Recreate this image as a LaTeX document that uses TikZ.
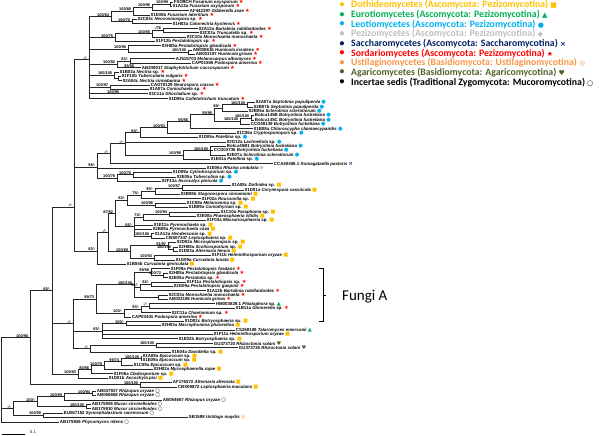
\documentclass[tikz,border=0pt]{standalone}
\usepackage{fontspec}
\setmainfont{Liberation Sans}
\newfontfamily\markfont{DejaVu Sans}
\newfontfamily\legfont{Carlito}
\usetikzlibrary{calc}
\definecolor{cDoth}{HTML}{FFC000}
\definecolor{cEuro}{HTML}{00B050}
\definecolor{cLeot}{HTML}{00B0F0}
\definecolor{cPezi}{HTML}{BFBFBF}
\definecolor{cSacc}{HTML}{002060}
\definecolor{cSord}{HTML}{FF0000}
\definecolor{cUsti}{HTML}{F79646}
\definecolor{cAgar}{HTML}{4F6228}
\definecolor{cLine}{HTML}{262626}
\newcommand\tipmark[2]{{\markfont\fontsize{5.2}{4}\selectfont\textcolor{#1}{#2}}}
\newcommand\mkR{\tipmark{cSord}{★}}
\newcommand\mkB{\tipmark{cLeot}{●}}
\newcommand\mkO{\tipmark{cDoth}{■}}
\newcommand\mkG{\tipmark{cEuro}{▲}}
\newcommand\mkY{\tipmark{cPezi}{◆}}
\newcommand\mkN{\tipmark{cSacc}{×}}
\newcommand\mkU{\tipmark{cUsti}{◎}}
\newcommand\mkA{\tipmark{cAgar}{♥}}
\newcommand\mkK{\tipmark{black}{○}}
\tikzset{
  tip-label/.style={anchor=west,inner xsep=0.7pt,inner ysep=0.2pt,
    font=\fontsize{4.4}{4.4}\selectfont\bfseries},
  boot-label/.style={anchor=south east,inner sep=0.2pt,xshift=-1.5pt,
    font=\fontsize{3.9}{3.9}\selectfont\bfseries},
  tree-edge/.style={draw=cLine,line width=0.85pt},
  legend-row/.style={anchor=west,inner sep=0pt,font=\legfont\fontsize{9.8}{10}\selectfont\bfseries},
  legend-dot/.style={inner sep=0pt,font=\legfont\fontsize{9.8}{10}\selectfont\bfseries},
}
\begin{document}
\begin{tikzpicture}[x=1pt,y=-4.375pt]
  \useasboundingbox (0,-0.4571) rectangle (600,99.2);

  % tips
  \node[tip-label] (l0) at (173,0) {FSO9CH \textit{Fusarium oxysporum} \mkR};
  \node[tip-label] (l1) at (172,1) {01A13a \textit{Fusarium oxysporum} \mkR};
  \node[tip-label] (l2) at (189,2) {AF442397 \textit{Gibberella zeae} \mkR};
  \node[tip-label] (l3) at (150,3) {01E08b \textit{Fusarium lateritium} \mkR};
  \node[tip-label] (l4) at (137,4) {02C04c \textit{Neocosmospora} sp. \mkR};
  \node[tip-label] (l5) at (172,5) {01H03a \textit{Calonectria kyotensis} \mkR};
  \node[tip-label] (l6) at (198,6) {02A12a \textit{Bartalinia robillardoides} \mkR};
  \node[tip-label] (l7) at (199,7) {03C03a \textit{Truncatella} sp. \mkR};
  \node[tip-label] (l8) at (186,8) {03C10a \textit{Monochaetia monochaeta} \mkR};
  \node[tip-label] (l9) at (155,9) {01F12b \textit{Pestalotiopsis} sp. \mkR};
  \node[tip-label] (l10) at (161,10) {03H05a \textit{Pestalotiopsis glandicola} \mkR};
  \node[tip-label] (l11) at (192,11) {AB008616 \textit{Humicola insolens} \mkR};
  \node[tip-label] (l12) at (195,12) {AB003187 \textit{Humicola grisea} \mkR};
  \node[tip-label] (l13) at (175,13) {AJ515703 \textit{Melanocarpus albomyces} \mkR};
  \node[tip-label] (l14) at (191,14) {CAP01565 \textit{Podospora anserina} \mkR};
  \node[tip-label] (l15) at (141,15) {AB249017 \textit{Staphylotrichum coccosporum} \mkR};
  \node[tip-label] (l16) at (119,16) {01B03a \textit{Nectria} sp. \mkR};
  \node[tip-label] (l17) at (121,17) {01F10b \textit{Tubercularia vulgaris} \mkR};
  \node[tip-label] (l18) at (122,18) {02A04c \textit{Nectria cinnabarina} \mkR};
  \node[tip-label] (l19) at (150,19) {CAD70129 \textit{Neurospora crassa} \mkR};
  \node[tip-label] (l20) at (149,20) {01A07a \textit{Coniochaeta} sp. \mkR};
  \node[tip-label] (l21) at (148,21) {03C11a \textit{Gliocladium} sp. \mkR};
  \node[tip-label] (l22) at (168,22) {01D05a \textit{Colletotrichum truncatum} \mkR};
  \node[tip-label] (l23) at (255,23) {02A07a \textit{Septotinia populiperda} \mkB};
  \node[tip-label] (l24) at (253,24) {02B07b \textit{Septotinia populiperda} \mkB};
  \node[tip-label] (l25) at (248,25) {02B05a \textit{Sclerotinia sclerotiorum} \mkB};
  \node[tip-label] (l26) at (254,26) {Botcu145B \textit{Botryotinia fuckeliana} \mkB};
  \node[tip-label] (l27) at (254,27) {Botcu145C \textit{Botryotinia fuckeliana} \mkB};
  \node[tip-label] (l28) at (250,28) {CCD48139 \textit{Botryotinia fuckeliana} \mkB};
  \node[tip-label] (l29) at (253,29) {01B08a \textit{Chloroscypha chamaecyparidis} \mkB};
  \node[tip-label] (l30) at (236,30) {01C06a \textit{Cryptosporiopsis} sp. \mkB};
  \node[tip-label] (l31) at (198,31) {01D05a \textit{Patellina} sp. \mkB};
  \node[tip-label] (l32) at (226,32) {02G12a \textit{Lachnellula} sp. \mkB};
  \node[tip-label] (l33) at (226,33) {Botcu45B1 \textit{Botryotinia fuckeliana} \mkB};
  \node[tip-label] (l34) at (213,34) {CCD03736 \textit{Botryotinia fuckeliana} \mkB};
  \node[tip-label] (l35) at (226,35) {02E07a \textit{Sclerotinia sclerotiorum} \mkB};
  \node[tip-label] (l36) at (210,36) {01E01a \textit{Patellina} sp. \mkB};
  \node[tip-label] (l37) at (273,37) {CCA40406.1 \textit{Komagataella pastoris} \mkN};
  \node[tip-label] (l38) at (206,38) {01E06a \textit{Rhizina undulata} \mkY};
  \node[tip-label] (l39) at (172,39) {01D09a \textit{Cylindrosporium} sp. \mkB};
  \node[tip-label] (l40) at (176,40) {02E05a \textit{Tuberculina} sp. \mkB};
  \node[tip-label] (l41) at (161,41) {02F13a \textit{Ascocalyx pinicola} \mkB};
  \node[tip-label] (l42) at (231,42) {01A08c \textit{Dothidea} sp. \mkO};
  \node[tip-label] (l43) at (244,43) {01D01a \textit{Corynespora cassiicola} \mkO};
  \node[tip-label] (l44) at (180,44) {02B08b \textit{Stagonospora cinnamomi} \mkO};
  \node[tip-label] (l45) at (201,45) {01F02a \textit{Roussoella} sp. \mkO};
  \node[tip-label] (l46) at (186,46) {01C08a \textit{Melanomma} sp. \mkO};
  \node[tip-label] (l47) at (188,47) {01B09a \textit{Coniothyrium} sp. \mkO};
  \node[tip-label] (l48) at (220,48) {01C10a \textit{Paraphoma} sp. \mkO};
  \node[tip-label] (l49) at (196,49) {02E08a \textit{Phaeosphaeria vitidis} \mkO};
  \node[tip-label] (l50) at (206,50) {01F03a \textit{Massariosphaeria} sp. \mkO};
  \node[tip-label] (l51) at (153,51) {01E11a \textit{Pyrenochaeta} sp. \mkO};
  \node[tip-label] (l52) at (152,52) {02B08a \textit{Pyrenochaeta cava} \mkO};
  \node[tip-label] (l53) at (154,53) {01A12a \textit{Hendersonia} sp. \mkO};
  \node[tip-label] (l54) at (165,54) {CBS07347 \textit{Leptosphaeria} sp. \mkO};
  \node[tip-label] (l55) at (176,55) {02D02a \textit{Microsphaeropsis} sp. \mkO};
  \node[tip-label] (l56) at (178,56) {02H08a \textit{Scolicosporium} sp. \mkO};
  \node[tip-label] (l57) at (178,57) {01D03a \textit{Alternaria tenuis} \mkO};
  \node[tip-label] (l58) at (211,58) {01F11b \textit{Helminthosporium oryzae} \mkO};
  \node[tip-label] (l59) at (175,59) {01G09a \textit{Curvularia lunata} \mkO};
  \node[tip-label] (l60) at (126,60) {01B04b \textit{Curvularia geniculata} \mkO};
  \node[tip-label] (l61) at (170,61) {01F09a \textit{Pestalotiopsis foedans} \mkR};
  \node[tip-label] (l62) at (168,62) {02H05a \textit{Pestalotiopsis glandicola} \mkR};
  \node[tip-label] (l63) at (168,63) {02E05a \textit{Pestalotia} sp. \mkR};
  \node[tip-label] (l64) at (186,64) {01F11a \textit{Pestalotiopsis} sp. \mkR};
  \node[tip-label] (l65) at (173,65) {02G09a \textit{Pestalotiopsis guepinii} \mkR};
  \node[tip-label] (l66) at (206,66) {01A12b \textit{Bartalinia robillardoides} \mkR};
  \node[tip-label] (l67) at (168,67) {02C03a \textit{Monochaetia monochaeta} \mkR};
  \node[tip-label] (l68) at (168,68) {AB003188 \textit{Humicola grisea} \mkR};
  \node[tip-label] (l69) at (215,69) {HM003839.1 \textit{Phialophora} sp. \mkG};
  \node[tip-label] (l70) at (235,70) {01B11a \textit{Glomerella} sp. \mkR};
  \node[tip-label] (l71) at (171,71) {02C11a \textit{Chaetomium} sp. \mkR};
  \node[tip-label] (l72) at (131,72) {CAP03441 \textit{Podospora anserina} \mkR};
  \node[tip-label] (l73) at (184,73) {01D02c \textit{Botryosphaeria} sp. \mkO};
  \node[tip-label] (l74) at (161,74) {02H03a \textit{Macrophomina phaseolina} \mkO};
  \node[tip-label] (l75) at (235,75) {CS258108 \textit{Talaromyces emersonii} \mkG};
  \node[tip-label] (l76) at (213,76) {01F11a \textit{Helminthosporium oryzae} \mkO};
  \node[tip-label] (l77) at (178,77) {01E02b \textit{Botryosphaeria} sp. \mkO};
  \node[tip-label] (l78) at (213,78) {GU373720 \textit{Rhizoctonia solani} \mkA};
  \node[tip-label] (l79) at (238,79) {GU373725 \textit{Rhizoctonia solani} \mkA};
  \node[tip-label] (l80) at (171,80) {01E04a \textit{Davidiella} sp. \mkO};
  \node[tip-label] (l81) at (142,81) {01A09a \textit{Epicoccum} sp. \mkO};
  \node[tip-label] (l82) at (142,82) {01E09a \textit{Epicoccum} sp. \mkO};
  \node[tip-label] (l83) at (133,83) {01C09a \textit{Epicoccum} sp. \mkO};
  \node[tip-label] (l84) at (153,84) {02H02a \textit{Mycosphaerella rojae} \mkO};
  \node[tip-label] (l85) at (113,85) {01F06a \textit{Cladosporium} sp. \mkO};
  \node[tip-label] (l86) at (108,86) {01D01b \textit{Ascochyta pisi} \mkO};
  \node[tip-label] (l87) at (172,87) {AF176572 \textit{Alternaria alternata} \mkO};
  \node[tip-label] (l88) at (177,88) {CBX09872 \textit{Leptosphaeria maculans} \mkO};
  \node[tip-label] (l89) at (96,89) {AB047927 \textit{Rhizopus oryzae} \mkK};
  \node[tip-label] (l90) at (96,90) {AB056668 \textit{Rhizopus oryzae} \mkK};
  \node[tip-label] (l91) at (162,91) {AB054667 \textit{Rhizopus oryzae} \mkK};
  \node[tip-label] (l92) at (91,92) {AB175909 \textit{Mucor circinelloides} \mkK};
  \node[tip-label] (l93) at (91,93) {AB175910 \textit{Mucor circinelloides} \mkK};
  \node[tip-label] (l94) at (63,94) {EU057152 \textit{Syncephalastrum racemosum} \mkK};
  \node[tip-label] (l95) at (188,95) {SB1598 \textit{Ustilago maydis} \mkU};
  \node[tip-label] (l96) at (59,96) {AB175926 \textit{Phycomyces nitens} \mkK};

  % inner nodes
  \coordinate (root) at (1,86.4);
  \coordinate (nBig) at (30,76.73);
  \coordinate (node54) at (52,65.97);
  \coordinate (node74) at (74,46.9);
  \coordinate (sord) at (89,13.2);
  \coordinate (s112) at (111,3.31);
  \coordinate (s135) at (133,2.125);
  \coordinate (s155) at (152,1.25);
  \coordinate (s170) at (170,0.5);
  \coordinate (s127) at (132,4.5);
  \coordinate (s117) at (115,8.125);
  \coordinate (s150) at (152,7.25);
  \coordinate (s187) at (163,6.5);
  \coordinate (s135b) at (128,10.75);
  \coordinate (s190) at (188,11.5);
  \coordinate (s118) at (117,14.25);
  \coordinate (s126) at (130,13.5);
  \coordinate (s115) at (114,16.75);
  \coordinate (s118b) at (118,17.5);
  \coordinate (s145) at (110,19.5);
  \coordinate (node97) at (97,37.8);
  \coordinate (node124) at (110,34.71);
  \coordinate (node140) at (125,32.42);
  \coordinate (nL00) at (140,29.84);
  \coordinate (nL0) at (167,28.69);
  \coordinate (nL1) at (190,27.375);
  \coordinate (nL2) at (214,25.75);
  \coordinate (nL3) at (222,24.25);
  \coordinate (nL3a) at (247,23.5);
  \coordinate (nL4) at (240,27.25);
  \coordinate (nL4a) at (251,26.5);
  \coordinate (nB1) at (183,35);
  \coordinate (nB2) at (210,34);
  \coordinate (node117c) at (117,40.25);
  \coordinate (node133) at (133,39.5);
  \coordinate (nDoth) at (97,57);
  \coordinate (nQ) at (108,52.73);
  \coordinate (nE1) at (115,48.34);
  \coordinate (nD4) at (127,45.31);
  \coordinate (nD3) at (141,44.125);
  \coordinate (nD2) at (155,43.25);
  \coordinate (nD1) at (182,42.5);
  \coordinate (nD5) at (155,46.5);
  \coordinate (nD8) at (134,51.375);
  \coordinate (nD7) at (143,49.25);
  \coordinate (nD6) at (169,48.5);
  \coordinate (nD9) at (151,53.5);
  \coordinate (nR) at (130,57.125);
  \coordinate (nS2) at (168,55.75);
  \coordinate (nS1) at (173,56.5);
  \coordinate (nS3) at (154,58.5);
  \coordinate (node73b) at (73,73.56);
  \coordinate (node97b) at (96,67.875);
  \coordinate (fA) at (134,64.625);
  \coordinate (fA1) at (151,61.75);
  \coordinate (fA2) at (163,62.5);
  \coordinate (fC) at (140,65.25);
  \coordinate (fB) at (151,64.5);
  \coordinate (fE) at (158,67.5);
  \coordinate (fF3) at (124,71.125);
  \coordinate (fF2) at (141,70.25);
  \coordinate (fF1) at (149,69.5);
  \coordinate (nG2) at (102,75.25);
  \coordinate (nG1) at (126,73.5);
  \coordinate (node95) at (90,79.25);
  \coordinate (nH) at (156,78.5);
  \coordinate (node82) at (78,85.03);
  \coordinate (nM) at (91,84.06);
  \coordinate (nN) at (104,83.125);
  \coordinate (nO) at (121,82.25);
  \coordinate (nP) at (141,81.5);
  \coordinate (node128) at (140,87.5);
  \coordinate (m13) at (13,92.94);
  \coordinate (m40) at (37,91.375);
  \coordinate (m67) at (64,90.25);
  \coordinate (m94) at (92,89.5);
  \coordinate (m80) at (86,92.5);
  \coordinate (m43) at (43,94.5);
  \coordinate (k15) at (136,15);
  \coordinate (k21) at (121,21);

  % branches
  \foreach \p/\cs in {root/{nBig,m13,l96.west}, nBig/{node54,node128},
      node54/{node74,node73b,node82}, node74/{sord,node97,nDoth},
      sord/{s112,s117,s135b,s118,s115,s145,l21.west,l22.west},
      s112/{s135,s127}, s135/{s155,l3.west}, s155/{s170,l2.west},
      s170/{l0.west,l1.west}, s127/{l4.west,l5.west}, s117/{s150,l9.west},
      s150/{s187,l8.west}, s187/{l6.west,l7.west}, s135b/{l10.west,s190},
      s190/{l11.west,l12.west}, s118/{s126,l15.west}, s126/{l13.west,l14.west},
      s115/{l16.west,s118b}, s118b/{l17.west,l18.west}, s145/{l19.west,l20.west},
      node97/{node124,l38.west,node117c}, node124/{node140,l37.west},
      node140/{nL00,l32.west,nB1}, nL00/{nL0,l31.west}, nL0/{nL1,l30.west},
      nL1/{nL2,l29.west}, nL2/{nL3,nL4}, nL3/{nL3a,l25.west},
      nL3a/{l23.west,l24.west}, nL4/{nL4a,l28.west}, nL4a/{l26.west,l27.west},
      nB1/{nB2,l36.west}, nB2/{l33.west,l34.west,l35.west},
      node117c/{node133,l41.west}, node133/{l39.west,l40.west},
      nDoth/{nQ,l60.west}, nQ/{nE1,nR}, nE1/{nD4,nD8}, nD4/{nD3,nD5},
      nD3/{nD2,l45.west}, nD2/{nD1,l44.west}, nD1/{l42.west,l43.west},
      nD5/{l46.west,l47.west}, nD8/{nD7,l51.west,l52.west,nD9},
      nD7/{nD6,l50.west}, nD6/{l48.west,l49.west}, nD9/{l53.west,l54.west},
      nR/{nS2,nS3}, nS2/{l55.west,nS1}, nS1/{l56.west,l57.west},
      nS3/{l58.west,l59.west},
      node73b/{node97b,nG2,node95}, node97b/{fA,fF3}, fA/{fA1,fC,fE},
      fA1/{l61.west,fA2}, fA2/{l62.west,l63.west}, fC/{fB,l66.west},
      fB/{l64.west,l65.west}, fE/{l67.west,l68.west}, fF3/{fF2,l72.west},
      fF2/{fF1,l71.west}, fF1/{l69.west,l70.west},
      nG2/{nG1,l75.west,l76.west,l77.west}, nG1/{l73.west,l74.west},
      node95/{nH,l80.west}, nH/{l78.west,l79.west},
      node82/{nM,l86.west}, nM/{nN,l85.west}, nN/{nO,l84.west},
      nO/{nP,l83.west}, nP/{l81.west,l82.west}, node128/{l87.west,l88.west},
      m13/{m40,m43}, m40/{m67,m80}, m67/{m94,l91.west}, m94/{l89.west,l90.west},
      m80/{l92.west,l93.west}, m43/{l94.west,l95.west}}
    \foreach \c in \cs {\draw[tree-edge] (\p) |- (\c);}

  % bootstrap values
  \foreach \n/\t in {sord/{-/-}, s112/{100/64}, s135/{100/80}, s155/{100/96},
      s170/{100/99}, s127/{100/70}, s117/{100/75}, s150/{100/55}, s187/{-/76},
      s135b/{100/90}, s190/{100/100}, s118/{100/92}, s126/{83/-}, k15/{85/58},
      s115/{100/100}, s145/{100/97}, k21/{100/95}, node74/{-/-}, node97/{98/-},
      node124/{-/-}, node140/{-/-}, nL00/{84/-}, nL0/{100/53}, nL1/{95/56},
      nL2/{95/95}, nL3/{98/-}, nL3a/{100/100}, nL4/{100/100}, nL4a/{100/100},
      nB1/{100/95}, nB2/{100/100}, node117c/{100/78}, node133/{100/76},
      nDoth/{82/-}, nQ/{-/-}, nE1/{87/52}, nD4/{82/-}, nD3/{75/-}, nD2/{95/-},
      nD1/{100/57}, nD5/{100/96}, nD8/{66/-}, nD7/{74/-}, nD6/{100/94},
      nD9/{100/100}, nR/{100/69}, nS2/{91/97}, nS1/{100/100}, nS3/{100/53},
      node54/{66/-}, node73b/{-/-}, node97b/{99/73}, fA/{100/100}, fA1/{99/58},
      fA2/{100/72}, fC/{91/-}, fB/{92/-}, fF3/{100/-}, fF2/{93/-}, fF1/{-/-},
      nG2/{65/-}, nG1/{100/-}, node95/{-/-}, nH/{100/100}, node82/{100/83},
      nM/{80/66}, nN/{100/79}, nO/{99/74}, nP/{100/100}, node128/{100/100},
      nBig/{100/90}, m13/{-/-}, m40/{100/-}, m67/{100/69}, m94/{100/94},
      m80/{100/100}, m43/{100/50}}
    \node[boot-label] at (\n) {\t};

  \begin{scope}[y=-1pt,yshift=2pt]
    % legend
    \foreach \r/\col/\txt/\sym in {
        0/cDoth/{Dothideomycetes (Ascomycota: Pezizomycotina)}/■,
        1/cEuro/{Eurotiomycetes (Ascomycota: Pezizomycotina)}/▲,
        2/cLeot/{Leotiomycetes (Ascomycota: Pezizomycotina)}/●,
        3/cPezi/{Pezizomycetes (Ascomycota: Pezizomycotina)}/◆,
        4/cSacc/{Saccharomycetes (Ascomycota: Saccharomycotina)}/×,
        5/cSord/{Sordariomycetes (Ascomycota: Pezizomycotina)}/★,
        6/cUsti/{Ustilaginomycetes (Basidiomycota: Ustilaginomycotina)}/◎,
        7/cAgar/{Agaricomycetes (Basidiomycota: Agaricomycotina)}/♥,
        8/black/{Incertae sedis (Traditional Zygomycota: Mucoromycotina)}/○} {
      \node[legend-dot,text=\col] (dot\r) at (342,{5+9.65*\r}) {•};
      \node[legend-row,text=\col] (key\r) at (351,{5+9.65*\r})
        {\txt~{\markfont\fontsize{7}{7}\selectfont\sym}};
    }
    % Fungi A bracket
    \draw[line width=0.8pt] (319,268) -- (323,268) -- (323,321) -- (319,321);
    \draw[line width=0.8pt] (323,295) -- (326,295);
    \node[anchor=west,inner sep=0pt,font=\legfont\fontsize{15}{15}\selectfont]
      (fungiA) at (342,297) {Fungi A};
    % scale bar
    \draw[line width=1pt] (2,434) -- (25,434);
    \node[anchor=west,inner sep=0pt,font=\fontsize{4}{4}\selectfont] (scale) at (30,432.5) {0.1};
  \end{scope}
\end{tikzpicture}
\end{document}
